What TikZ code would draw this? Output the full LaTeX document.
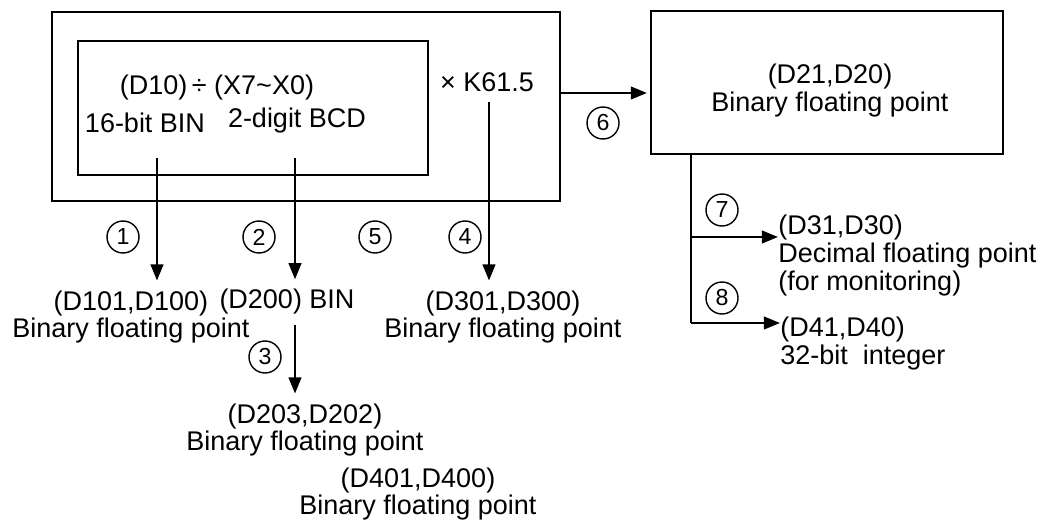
\documentclass[tikz,border=0pt]{standalone}
\usepackage{fontspec}
\setmainfont{Liberation Sans}
\usetikzlibrary{arrows.meta}

\begin{document}
\begin{tikzpicture}[font=\fontsize{19.2}{19.6}\selectfont,
  box/.style={draw, line width=1.8pt, inner sep=0pt},
  wire/.style={line width=1.6pt},
  arr/.style={wire, -{Triangle[length=11.5pt,width=9pt]}},
  num/.style={draw, circle, line width=1pt, minimum size=0.8cm, inner sep=0pt,
              font=\fontsize{16.5}{16.5}\selectfont},
  lbl/.style={align=center, inner xsep=0pt, inner ysep=7pt},
  side/.style={align=left, inner xsep=0pt, inner ysep=7pt, anchor=west},
]
\useasboundingbox (0,0) rectangle (26.125,-13);

% the two boxes on the left
\node[box, minimum width=12.7cm, minimum height=4.725cm] (outer) at (7.65,-2.6625) {};
\node[box, minimum width=8.75cm, minimum height=3.35cm] (inner) at (6.325,-2.7) {};
\node[lbl] (div)  at (5.425,-2.2)  {(D10)\,÷ (X7\textasciitilde X0)};
\node[lbl] (bin16) at (3.625,-3.075) {16-bit BIN};
\node[lbl] (bcd)  at (7.425,-3.025) {2-digit BCD};
\node[lbl] (k615) at (12.175,-2.05) {× K61.5};

% result box
\node[box, minimum width=8.8cm, minimum height=3.575cm] (result) at (20.675,-2.0625) {};
\node[lbl] (d21) at (20.75,-2.2625) {(D21,D20)\\Binary floating point};

% results below
\node[lbl] (d101) at (3.275,-7.925)  {(D101,D100)\\Binary floating point};
\node[lbl] (d200) at (7.175,-7.55)   {(D200) BIN};
\node[lbl] (d301) at (12.575,-7.925) {(D301,D300)\\Binary floating point};
\node[lbl] (d203) at (7.625,-10.75)  {(D203,D202)\\Binary floating point};
\node[lbl] (d401) at (10.45,-12.35)  {(D401,D400)\\Binary floating point};
\node[side] (d31) at (19.45,-6.3875) {(D31,D30)\\Decimal floating point\\(for monitoring)};
\node[side] (d41) at (19.5,-8.5875)  {(D41,D40)\\32-bit\ \ integer};

% step numbers
\node[num] (c1) at (3.075,-5.925)  {1};
\node[num] (c2) at (6.475,-5.925)  {2};
\node[num] (c5) at (9.375,-5.925)  {5};
\node[num] (c4) at (11.625,-5.925) {4};
\node[num] (c3) at (6.625,-8.925)  {3};
\node[num] (c6) at (15.075,-3.075) {6};
\node[num] (c7) at (18.05,-5.25)   {7};
\node[num] (c8) at (18.05,-7.45)   {8};

\coordinate (s1) at (3.925,-3.95);
\coordinate (s2) at (7.375,-3.95);
\coordinate (s4) at (12.225,-2.55);
\coordinate (j7) at (17.275,-5.925);
\coordinate (j8) at (17.275,-8.075);

\draw[arr] (s1) -- (s1 |- d101.north);
\draw[arr] (s2) -- (s2 |- d200.north);
\draw[arr] (s4) -- (s4 |- d301.north);
\draw[arr] (s2 |- d200.south) -- (s2 |- d203.north);
\draw[arr, shorten >=2pt] (outer.east |- 0,-2.325) -- (result.west |- 0,-2.325);

% branches of the result
\draw[wire] (result.south -| j7) -- (j8);
\draw[arr] (j7) -- (j7 -| d31.west);
\draw[arr] (j8) -- (j8 -| d41.west);
\end{tikzpicture}
\end{document}
